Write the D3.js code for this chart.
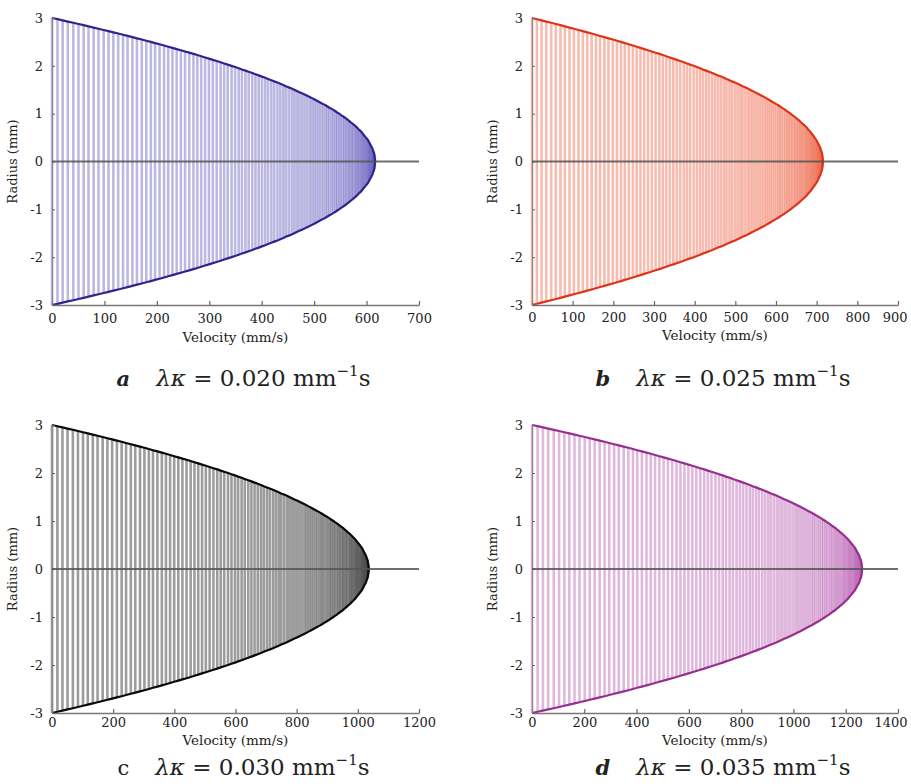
<!DOCTYPE html>
<html>
<head>
<meta charset="utf-8">
<script src="https://cdn.jsdelivr.net/npm/d3@7"></script>
<style>
  body { margin: 0; background: #fff; }
  svg { display: block; }
  text { font-family: "DejaVu Serif", "Liberation Serif", serif; fill: #222; }
</style>
</head>
<body>
<script>
// values
const panelLetters = ["a", "b", "c", "d"];
const lambdaKappa = ["0.020", "0.025", "0.030", "0.035"];
const peakVelocity = [616, 715, 1035, 1262];   // mm/s at the centre line
const pipeRadius = 3;                          // mm
const radiusTicks = [-3, -2, -1, 0, 1, 2, 3];
const velocityTicks = [
    [0, 100, 200, 300, 400, 500, 600, 700],
    [0, 100, 200, 300, 400, 500, 600, 700, 800, 900],
    [0, 200, 400, 600, 800, 1000, 1200],
    [0, 200, 400, 600, 800, 1000, 1200, 1400]
];
// fraction of the centre-line velocity at each sampled radius, from r = 0 out to the wall
const velocityFraction = [
    1.000, 1.000, 1.000, 0.999, 0.999, 0.998, 0.998, 0.997, 0.996, 0.994,
    0.993, 0.992, 0.990, 0.988, 0.986, 0.984, 0.982, 0.980, 0.978, 0.975,
    0.972, 0.969, 0.966, 0.963, 0.960, 0.957, 0.953, 0.949, 0.946, 0.942,
    0.938, 0.933, 0.929, 0.924, 0.920, 0.915, 0.910, 0.905, 0.900, 0.894,
    0.889, 0.883, 0.878, 0.872, 0.866, 0.859, 0.853, 0.847, 0.840, 0.833,
    0.826, 0.819, 0.812, 0.805, 0.798, 0.790, 0.782, 0.774, 0.766, 0.758,
    0.750, 0.742, 0.733, 0.724, 0.716, 0.707, 0.698, 0.688, 0.679, 0.669,
    0.660, 0.650, 0.640, 0.630, 0.620, 0.609, 0.599, 0.588, 0.578, 0.567,
    0.556, 0.544, 0.533, 0.522, 0.510, 0.498, 0.486, 0.474, 0.462, 0.450,
    0.438, 0.425, 0.412, 0.399, 0.386, 0.373, 0.360, 0.347, 0.333, 0.319,
    0.306, 0.292, 0.278, 0.263, 0.249, 0.234, 0.220, 0.205, 0.190, 0.175,
    0.160, 0.144, 0.129, 0.113, 0.098, 0.082, 0.066, 0.049, 0.033, 0.017,
    0.000
];

// styles
const LINE_COLORS = ["#6a62bf", "#ee6a4e", "#4a4a4a", "#bb62b3"];
const LINE_OPACITY = [0.45, 0.45, 0.55, 0.45];
const EDGE_COLORS = ["#30248f", "#dd3519", "#0a0a0a", "#962f8e"];

const width = 911;
const height = 784;

const layout = [
    { x: 52, y: 18, w: 367, h: 287, tickPad: 9, labelDy: 37, captionY: 386, letterStyle: "italic" },
    { x: 532, y: 18, w: 366, h: 287, tickPad: 8, labelDy: 35, captionY: 386, letterStyle: "italic" },
    { x: 52, y: 425, w: 367, h: 288, tickPad: 5, labelDy: 32, captionY: 775, letterStyle: "normal" },
    { x: 532, y: 425, w: 366, h: 288, tickPad: 5, labelDy: 32, captionY: 775, letterStyle: "italic" }
];

const svg = d3.select("body")
    .append("svg")
    .attr("width", width)
    .attr("height", height);

panelLetters.forEach((letter, i) => {
    const L = layout[i];
    const ticks = velocityTicks[i];
    const g = svg.append("g").attr("transform", `translate(${L.x},${L.y})`);

    const x = d3.scaleLinear().domain([0, ticks[ticks.length - 1]]).range([0, L.w]);
    const y = d3.scaleLinear().domain([-pipeRadius, pipeRadius]).range([L.h, 0]);

    const n = velocityFraction.length - 1;
    const samples = velocityFraction.map((f, k) => ({
        r: pipeRadius * k / n,
        v: f * peakVelocity[i]
    }));

    // one vertical line per sampled radius, from -r to +r
    g.append("g")
        .selectAll("line")
        .data(samples)
        .join("line")
        .attr("x1", d => x(d.v))
        .attr("x2", d => x(d.v))
        .attr("y1", d => y(-d.r))
        .attr("y2", d => y(d.r))
        .attr("stroke", LINE_COLORS[i])
        .attr("stroke-opacity", LINE_OPACITY[i])
        .attr("stroke-width", 2.6);

    // profile envelope
    const outline = samples.slice().reverse().map(d => [d.v, d.r])
        .concat(samples.map(d => [d.v, -d.r]));
    g.append("path")
        .attr("d", d3.line().x(d => x(d[0])).y(d => y(d[1]))(outline))
        .attr("fill", "none")
        .attr("stroke", EDGE_COLORS[i])
        .attr("stroke-width", 2.2);

    // axes
    const xAxis = d3.axisBottom(x)
        .tickValues(ticks)
        .tickFormat(d => String(d))
        .tickSize(-4)
        .tickSizeOuter(0)
        .tickPadding(L.tickPad);
    const gx = g.append("g").attr("transform", `translate(0,${L.h})`).call(xAxis);
    gx.select(".domain").attr("stroke", "#777").attr("stroke-width", 1.6);
    gx.selectAll(".tick line").attr("stroke", "#666").attr("stroke-width", 1.2);
    gx.selectAll("text").style("font-size", "13px").attr("fill", "#222");
    // keep the last label inside the page
    gx.selectAll(".tick").each(function (d) {
        const t = d3.select(this).select("text");
        const b = t.node().getBBox();
        const right = L.x + x(d) + b.x + b.width;
        if (right > width - 4) t.attr("dx", width - 4 - right);
    });

    const yAxis = d3.axisLeft(y)
        .tickValues(radiusTicks)
        .tickFormat(d => String(d))
        .tickSize(-3)
        .tickSizeOuter(0)
        .tickPadding(9);
    const gy = g.append("g").call(yAxis);
    gy.select(".domain").attr("stroke", "#888").attr("stroke-width", 1.2);
    gy.selectAll(".tick line").attr("stroke", "#666");
    gy.selectAll("text").style("font-size", "13px").attr("fill", "#222");

    // r = 0 line
    g.append("line")
        .attr("x1", 0)
        .attr("x2", L.w)
        .attr("y1", y(0))
        .attr("y2", y(0))
        .attr("stroke", "#555")
        .attr("stroke-opacity", 0.85)
        .attr("stroke-width", 2);

    // axis titles
    g.append("text")
        .attr("x", L.w / 2)
        .attr("y", L.h + L.labelDy)
        .attr("text-anchor", "middle")
        .style("font-size", "13.5px")
        .text("Velocity (mm/s)");

    g.append("text")
        .attr("transform", `translate(-35,${y(0)}) rotate(-90)`)
        .attr("text-anchor", "middle")
        .style("font-size", "13px")
        .text("Radius (mm)");

    // caption
    const cap = svg.append("text")
        .attr("x", L.x + L.w / 2 + 8)
        .attr("y", L.captionY)
        .attr("text-anchor", "middle")
        .style("font-size", "23px");
    cap.append("tspan")
        .style("font-weight", L.letterStyle === "italic" ? "bold" : "normal")
        .style("font-style", L.letterStyle)
        .style("font-size", "21px")
        .text(letter);
    cap.append("tspan").attr("dx", 26).style("font-style", "italic").text("λκ");
    cap.append("tspan").text(` = ${lambdaKappa[i]} mm`);
    cap.append("tspan").attr("dy", -10).style("font-size", "15px").text("−1");
    cap.append("tspan").attr("dy", 10).text("s");
});
</script>
</body>
</html>
